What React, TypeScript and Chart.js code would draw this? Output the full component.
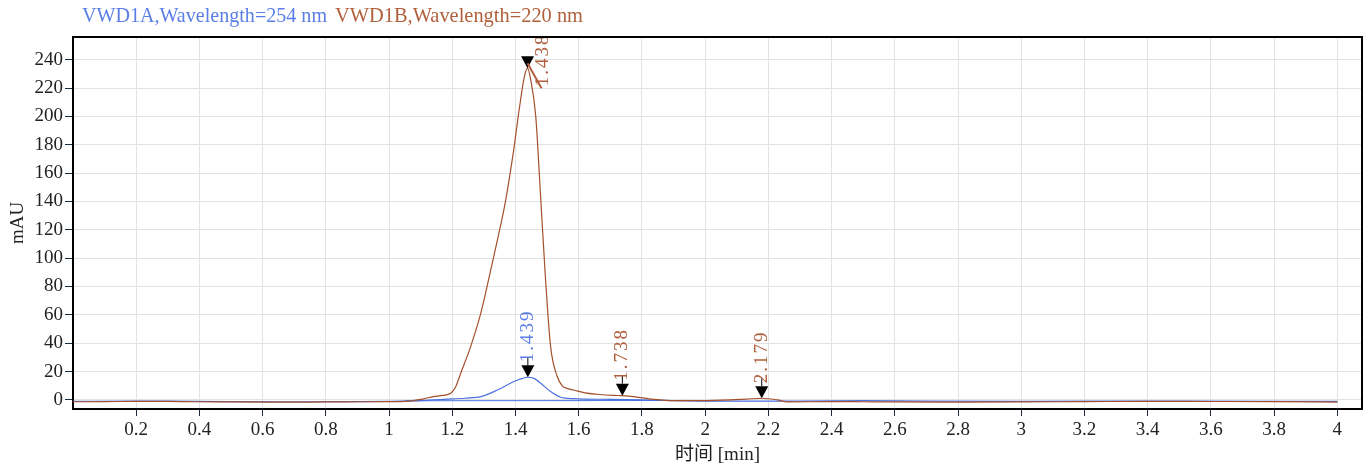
import React, { useEffect, useRef } from 'react';
import { Chart, registerables } from 'chart.js';

Chart.register(...registerables);

// ---- data ----
const SERIES_NAMES = ['VWD1A,Wavelength=254 nm', 'VWD1B,Wavelength=220 nm'];

const TIME_A = [0.0, 0.2, 0.3, 0.5, 0.7, 0.9, 1.0, 1.1, 1.185, 1.24, 1.29, 1.343, 1.395, 1.42, 1.439, 1.46, 1.48, 1.511, 1.543, 1.584, 1.7, 1.8, 1.9, 2.0, 2.3, 2.5, 2.7, 3.0, 3.5, 4.0];
const VWD1A = [-1.0, -0.8, -0.9, -1.2, -1.3, -1.2, -1.0, -0.5, 0.5, 1.2, 2.3, 7, 13, 15, 16, 15, 11.7, 5.9, 1.9, 0.9, 0.4, 0, -0.5, -0.8, -0.9, -0.5, -0.9, -1.0, -0.8, -1.0];

const BASELINE_A_TIME = [1.05, 1.95];
const BASELINE_A = [-0.6, -0.4];

const TIME_B = [0.0, 0.1, 0.2, 0.3, 0.4, 0.5, 0.6, 0.7, 0.8, 0.9, 1.0, 1.05, 1.08, 1.11, 1.14, 1.17, 1.195, 1.21, 1.227, 1.258, 1.29, 1.315, 1.34, 1.369, 1.394, 1.413, 1.428, 1.438, 1.448, 1.464, 1.48, 1.495, 1.511, 1.532, 1.548, 1.565, 1.584, 1.62, 1.659, 1.71, 1.738, 1.774, 1.817, 1.86, 1.9, 1.985, 2.08, 2.13, 2.179, 2.229, 2.26, 2.4, 2.5, 2.6, 2.8, 3.0, 3.2, 3.4, 3.6, 3.8, 4.0];
const VWD1B = [-1.3, -1.2, -1.0, -1.0, -1.3, -1.4, -1.5, -1.6, -1.4, -1.3, -1.2, -1.0, -0.3, 0.8, 2.3, 3.2, 4.7, 9, 19, 37.6, 61, 85, 110, 141, 176, 207, 228, 234, 226, 200, 141, 85, 37.6, 16.5, 9.9, 8, 7, 5, 4, 3.2, 3.0, 2.3, 0.9, 0, -0.5, -0.5, 0, 0.6, 1.2, 0, -1.4, -1.2, -1.3, -1.4, -1.5, -1.4, -1.2, -1.0, -1.1, -1.2, -1.5];

const PEAK_LABELS = ['1.438', '1.439', '1.738', '2.179'];
const PEAK_TIMES = [1.438, 1.439, 1.738, 2.179];
const PEAK_VALUES = [234, 16, 3.0, 1.2];
const PEAK_SERIES = [1, 0, 1, 1];

const X_TICKS = [0.2, 0.4, 0.6, 0.8, 1, 1.2, 1.4, 1.6, 1.8, 2, 2.2, 2.4, 2.6, 2.8, 3, 3.2, 3.4, 3.6, 3.8, 4];
const Y_TICKS = [0, 20, 40, 60, 80, 100, 120, 140, 160, 180, 200, 220, 240];

// ---- styles ----
const COLORS = ['#4a72e0', '#a5502c'];
const LEGEND_COLORS = ['#5a7ee6', '#b0603c'];
const FONT = '"Liberation Serif", "Noto Sans CJK SC", serif';

const legendPlugin = {
  id: 'topLegend',
  afterDraw(chart: any) {
    const ctx = chart.ctx;
    const starts = [82, 335];
    const widths = [245, 248];
    ctx.save();
    ctx.font = `21px ${FONT}`;
    ctx.textBaseline = 'middle';
    ctx.textAlign = 'left';
    SERIES_NAMES.forEach((name, i) => {
      const w = ctx.measureText(name).width;
      const s = widths[i] / w;
      ctx.save();
      ctx.translate(starts[i], 16);
      ctx.scale(s, 1);
      ctx.fillStyle = LEGEND_COLORS[i];
      ctx.fillText(name, 0, 0);
      ctx.restore();
    });
    ctx.restore();
  },
};

const framePlugin = {
  id: 'frame',
  afterDraw(chart: any) {
    const { ctx, chartArea } = chart;
    ctx.save();
    ctx.strokeStyle = '#000';
    ctx.lineWidth = 2;
    ctx.beginPath();
    ctx.moveTo(chartArea.left, chartArea.top);
    ctx.lineTo(chartArea.right, chartArea.top);
    ctx.lineTo(chartArea.right, chartArea.bottom);
    ctx.stroke();
    ctx.restore();
  },
};

const peakPlugin = {
  id: 'peaks',
  afterDatasetsDraw(chart: any) {
    const { ctx, chartArea } = chart;
    const xs = chart.scales.x;
    const ys = chart.scales.y;
    ctx.save();
    ctx.font = `19px ${FONT}`;
    try {
      (ctx as any).letterSpacing = '2px';
    } catch (e) {
      /* ignore */
    }
    PEAK_TIMES.forEach((t, i) => {
      const px = xs.getPixelForValue(t);
      const py = ys.getPixelForValue(PEAK_VALUES[i]);
      const color = LEGEND_COLORS[PEAK_SERIES[i]];
      const triH = 12;
      const triW = 13;
      ctx.fillStyle = '#000';
      ctx.beginPath();
      ctx.moveTo(px, py);
      ctx.lineTo(px - triW / 2, py - triH);
      ctx.lineTo(px + triW / 2, py - triH);
      ctx.closePath();
      ctx.fill();
      const label = PEAK_LABELS[i];
      const tw = ctx.measureText(label).width;
      const triTop = py - triH;
      ctx.fillStyle = color;
      ctx.textAlign = 'left';
      ctx.textBaseline = 'middle';
      if (triTop - 3 - tw < chartArea.top - 8) {
        ctx.strokeStyle = color;
        ctx.lineWidth = 2;
        ctx.beginPath();
        ctx.moveTo(px, py - 5);
        ctx.lineTo(px + 14, py + 20);
        ctx.stroke();
        ctx.save();
        ctx.translate(px + 15, py + 18);
        ctx.rotate(-Math.PI / 2);
        ctx.fillText(label, 0, 0);
        ctx.restore();
      } else {
        ctx.strokeStyle = '#000';
        ctx.lineWidth = 1;
        ctx.beginPath();
        ctx.moveTo(px, triTop);
        ctx.lineTo(px, triTop - 8);
        ctx.stroke();
        ctx.save();
        ctx.translate(px, triTop - 3);
        ctx.rotate(-Math.PI / 2);
        ctx.fillText(label, 0, 0);
        ctx.restore();
      }
    });
    ctx.restore();
  },
};

export default function App() {
  const ref = useRef<HTMLCanvasElement | null>(null);

  useEffect(() => {
    if (!ref.current) return;
    const toPts = (xs: number[], ys: number[]) => xs.map((x, i) => ({ x, y: ys[i] }));
    const chart = new Chart(ref.current, {
      type: 'line',
      data: {
        datasets: [
          {
            label: SERIES_NAMES[1],
            data: toPts(TIME_B, VWD1B),
            borderColor: COLORS[1],
            borderWidth: 1.2,
            pointRadius: 0,
            cubicInterpolationMode: 'monotone',
            fill: false,
          },
          {
            label: SERIES_NAMES[0],
            data: toPts(TIME_A, VWD1A),
            borderColor: COLORS[0],
            borderWidth: 1.2,
            pointRadius: 0,
            cubicInterpolationMode: 'monotone',
            fill: false,
          },
          {
            label: 'baseline',
            data: toPts(BASELINE_A_TIME, BASELINE_A),
            borderColor: COLORS[0],
            borderWidth: 1,
            pointRadius: 0,
            fill: false,
          },
        ],
      },
      options: {
        animation: false,
        responsive: true,
        maintainAspectRatio: false,
        layout: { padding: { top: 37, right: 5, left: 0, bottom: 0 } },
        plugins: {
          legend: { display: false },
          tooltip: { enabled: false },
        },
        scales: {
          x: {
            type: 'linear',
            min: 0,
            max: 4.078,
            afterBuildTicks: (s: any) => {
              s.ticks = X_TICKS.map((v) => ({ value: v }));
            },
            afterFit: (s: any) => {
              s.height = 61;
            },
            ticks: {
              font: { family: FONT, size: 19 },
              color: '#222',
              padding: 3,
              maxRotation: 0,
              autoSkip: false,
              callback: (v: any) => String(Math.round(Number(v) * 10) / 10),
            },
            grid: { color: '#e2e2e2', lineWidth: 1, tickColor: '#1d2b3a', tickLength: 7 },
            border: { color: '#000', width: 2 },
            title: {
              display: true,
              text: '时间 [min]',
              font: { family: FONT, size: 19 },
              color: '#222',
              padding: { top: 0, bottom: 4 },
            },
          },
          y: {
            type: 'linear',
            min: -6.4,
            max: 256,
            afterBuildTicks: (s: any) => {
              s.ticks = Y_TICKS.map((v) => ({ value: v }));
            },
            afterFit: (s: any) => {
              s.width = 73;
            },
            ticks: {
              font: { family: FONT, size: 19 },
              color: '#222',
              padding: 2,
              autoSkip: false,
              callback: (v: any) => String(v),
            },
            grid: { color: '#e2e2e2', lineWidth: 1, tickColor: '#1d2b3a', tickLength: 8 },
            border: { color: '#000', width: 2 },
            title: {
              display: true,
              text: 'mAU',
              font: { family: FONT, size: 19 },
              color: '#222',
              padding: { top: 7, bottom: 0 },
            },
          },
        },
      } as any,
      plugins: [legendPlugin, framePlugin, peakPlugin],
    });
    return () => chart.destroy();
  }, []);

  return (
    <div style={{ position: 'fixed', left: 0, top: 0, width: 1367, height: 470 }}>
      <canvas ref={ref} />
    </div>
  );
}
